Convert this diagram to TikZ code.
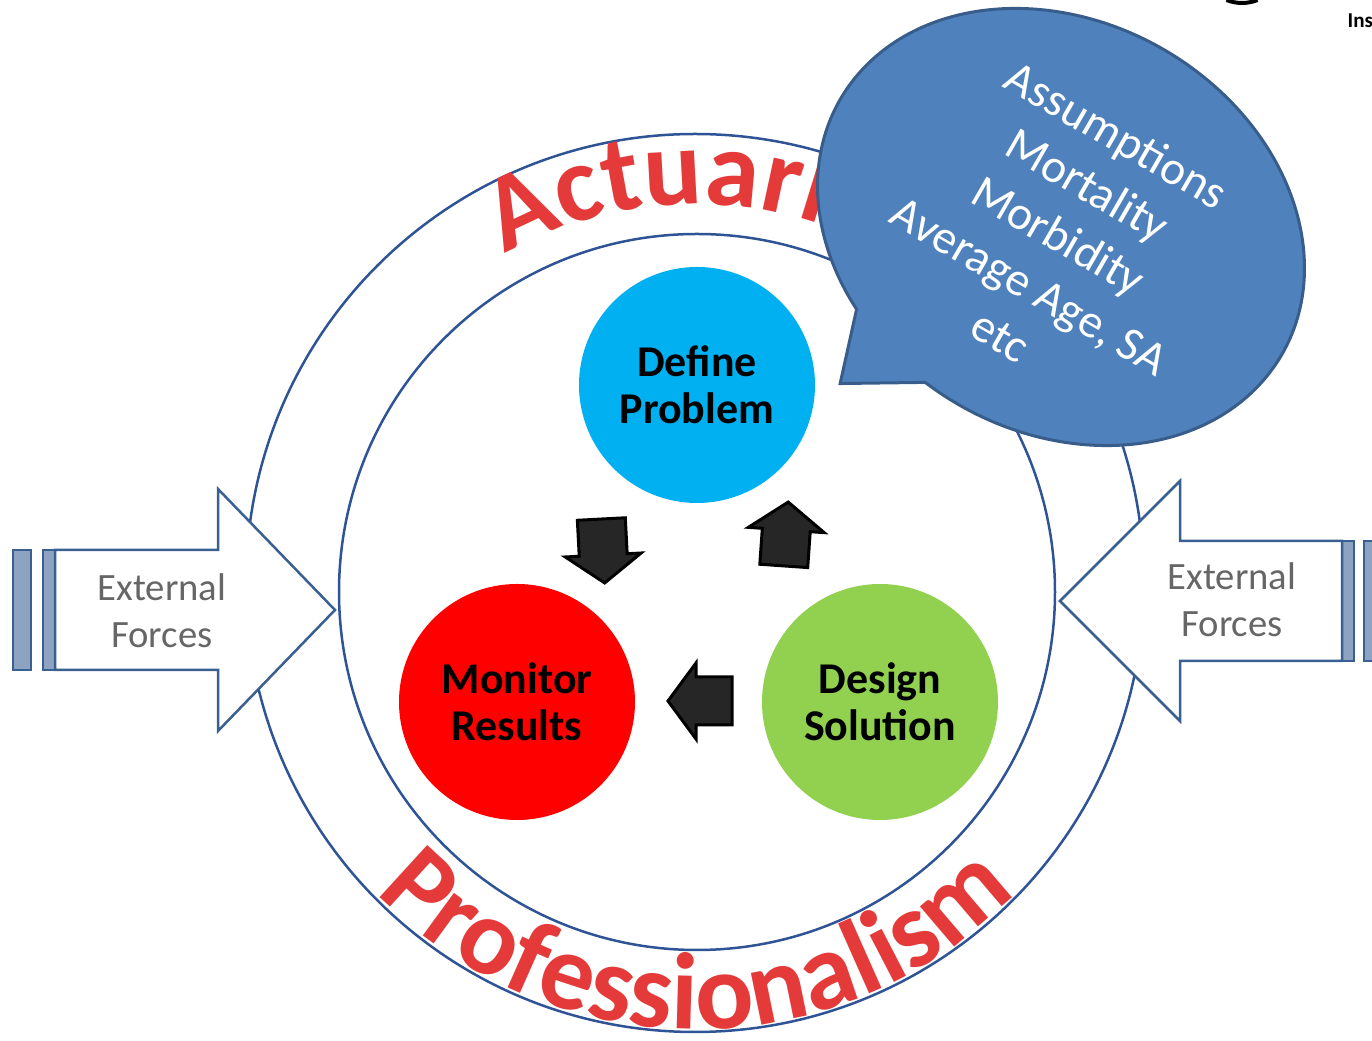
\documentclass[tikz,border=0pt]{standalone}
\usepackage{fontspec}
\setmainfont{Carlito}
\usepackage{tikz}
\usetikzlibrary{positioning}
\usetikzlibrary{decorations.text}

\definecolor{ringblue}{HTML}{2F5496}
\definecolor{arrowblue}{HTML}{3A5F91}
\definecolor{stripeblue}{HTML}{8EA2C2}
\definecolor{wordred}{HTML}{E53A3A}
\definecolor{defblue}{HTML}{00B0F0}
\definecolor{monred}{HTML}{FF0000}
\definecolor{desgreen}{HTML}{92D050}
\definecolor{bubblefill}{HTML}{4F81BD}
\definecolor{bubbleline}{HTML}{385D8A}
\definecolor{cyclegrey}{HTML}{262626}

\newcommand{\wordart}{\fontsize{31}{31}\selectfont\bfseries}

\begin{document}
\begin{tikzpicture}[x=0.1mm,y=0.1mm,
	ring/.style={draw=ringblue,line width=0.25mm},
	stage/.style={circle,minimum size=23.6mm,inner sep=0pt,align=center,font=\fontsize{12.5}{13.5}\selectfont\bfseries},
	cyclearrow/.pic={\filldraw [draw=black,fill=cyclegrey,line width=0.3mm] (-32,-24) -- (4,-24) -- (4,-38) -- (32,0) -- (4,38) -- (4,24) -- (-32,24) -- cycle;},
	forcebody/.style={draw=arrowblue,fill=white,line width=0.25mm},
	stripe/.style={draw=arrowblue,fill=stripeblue,line width=0.25mm},
	forcetext/.style={align=center,text=black!60,font=\fontsize{11}{13.5}\selectfont},
	bubble/.style={draw=bubbleline,fill=bubblefill,line width=0.3mm},
	bubbletext/.style={align=center,text=white,font=\fontsize{13.5}{16.5}\selectfont}
	]
	\useasboundingbox (0,0) rectangle (1372,1041);
	\clip (0,0) rectangle (1372,1041);

	\coordinate (outer)	at (695,458);
	\coordinate (inner)	at (697,449);
	\coordinate (centre)	at (696,455);

	\draw [ring] (outer) circle [radius=449];
	\draw [ring] (inner) circle [radius=358];

	\path [decorate,decoration={text along path,text color=wordred,text={|\wordart|Actuari}}]
		(centre) ++(120:382) arc [start angle=120,end angle=30,radius=382];
	\path [decorate,decoration={text along path,text color=wordred,text align=center,text={|\wordart|Professionalism}}]
		(centre) ++(200:443) arc [start angle=200,end angle=340,radius=443];

	\draw [stripe] (13,371) rectangle (31,491);
	\draw [stripe] (43,371) rectangle (55,491);
	\draw [forcebody] (55,371) -- (218,371) -- (218,310) -- (335,431) -- (218,552) -- (218,491) -- (55,491) -- cycle;
	\node [forcetext] (forcesleft)	at (162,430)	{External\\Forces};

	\draw [stripe] (1364,380) rectangle (1382,500);
	\draw [stripe] (1342,380) rectangle (1354,500);
	\draw [forcebody] (1342,380) -- (1180,380) -- (1180,320) -- (1060,440) -- (1180,560) -- (1180,500) -- (1342,500) -- cycle;
	\node [forcetext] (forcesright)	at (1232,441)	{External\\Forces};

	\node [stage,fill=defblue] (define)	at (697,656)	{Define\\Problem};
	\node [stage,fill=monred] (monitor)	at (517,339)	{Monitor\\Results};
	\node [stage,fill=desgreen] (design)	at (880,339)	{Design\\Solution};

	\pic [rotate=-87] (toleft)	at (603,490)	{cyclearrow};
	\pic [rotate=86] (totop)	at (786,507)	{cyclearrow};
	\pic [rotate=180] (tobottom)	at (700,340)	{cyclearrow};

	\begin{scope}[shift={(1061,814)},rotate=-30]
		\filldraw [bubble] (261:255 and 205) arc [start angle=261,end angle=597.8,x radius=255,y radius=205] -- (-113,-246) -- cycle;
	\end{scope}
	\node [bubbletext,rotate=-30] (assumptions)	at (1059,806)	{Assumptions\\Mortality\\Morbidity\\Average Age, SA\\etc};

	\draw [line width=0.4mm] (1242,1079.5) ++(248:41.5) arc [start angle=248,end angle=292,radius=41.5];
	\node [anchor=west,inner sep=0pt,font=\fontsize{6}{6}\selectfont\bfseries] (inst)	at (1347,1021)	{Institute};

\end{tikzpicture}
\end{document}
